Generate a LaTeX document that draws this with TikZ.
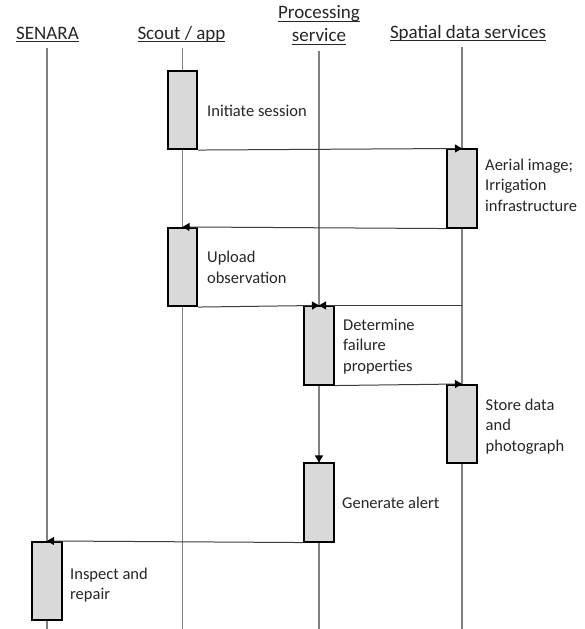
\documentclass[tikz,border=0pt]{standalone}
\usepackage{fontspec}
\setmainfont{Carlito}
\usetikzlibrary{arrows.meta}

\definecolor{lifegray}{HTML}{808080}
\definecolor{boxfill}{HTML}{D9D9D9}
\definecolor{msggray}{HTML}{3C3C3C}
\definecolor{txtgray}{HTML}{262626}

% underline that sits just below the baseline, through descenders
\newcommand\hdrul[1]{\sbox0{#1}\rlap{\rule[-2.6pt]{\wd0}{0.9pt}}\usebox0}
% stacked left-aligned lines, baseline on the first line
\newcommand\stackl[1]{\begin{tabular}[t]{@{}l@{}}#1\end{tabular}}

\begin{document}
\begin{tikzpicture}[x=1pt,y=-1pt,
  hdr/.style={inner sep=0pt,text=txtgray,font=\fontsize{19}{23}\selectfont},
  note/.style={inner sep=0pt,text=txtgray,font=\fontsize{16.5}{20.5}\selectfont},
  lifeline/.style={draw=lifegray,line width=1.2pt,shorten <=6pt},
  act/.style={draw=black,fill=boxfill,line width=1.6pt,
    minimum width=29.5pt,minimum height=78.5pt,inner sep=0pt},
  msg/.style={draw=msggray,line width=1pt,
    -{Triangle[length=7pt,width=8pt,color=black]}}]

\fill[white] (0,0) rectangle (584,629);
\useasboundingbox (0,0) rectangle (584,629);

% participants
\node[hdr,anchor=base] (senara) at (47.5,39.3) {\hdrul{SENARA}};
\node[hdr,anchor=base] (scout) at (181.5,39) {\hdrul{Scout / app}};
\node[hdr,anchor=south,align=center] (proc) at (319,44.6)
  {\hdrul{Processing}\\\hdrul{service}};
\node[hdr,anchor=base] (spatial) at (468,38) {\hdrul{Spatial data services}};

% lower ends of the lifelines
\coordinate (senaraEnd) at (47,629);
\coordinate (scoutEnd) at (182.5,629);
\coordinate (procEnd) at (319,629);
\coordinate (spatialEnd) at (462,629);

% lifelines
\draw[lifeline] (senara.south -| senaraEnd) -- (senaraEnd);
\draw[lifeline] (scout.south -| scoutEnd) -- (scoutEnd);
\draw[lifeline] (proc.south -| procEnd) -- (procEnd);
\draw[lifeline] (spatial.south -| spatialEnd) -- (spatialEnd);

% activation bars
\node[act] (a1) at (182.5,110) {};
\node[act] (a2) at (462,188.5) {};
\node[act] (a3) at (182.5,267) {};
\node[act] (a4) at (319,345.5) {};
\node[act] (a5) at (462,424) {};
\node[act] (a6) at (319,502.5) {};
\node[act] (a7) at (47,581) {};

% messages
\draw[msg] (a1.south east) -- (a2.north);
\draw[msg] (a2.south west) -- (a3.north);
\draw[msg] (a3.south east) -- (a4.north);
\draw[msg] (a4.north -| spatialEnd) -- (a4.north);
\draw[msg] (a4.south east) -- (a5.north);
\draw[msg,draw=lifegray,line width=1.2pt] (a4.south) -- (a6.north);
\draw[msg] (a6.south west) -- (a7.north);

% activity labels
\node[note,anchor=base west] (t1) at (207,116) {\stackl{Initiate session}};
\node[note,anchor=base west] (t2) at (485,170) {\stackl{Aerial image;\\Irrigation\\infrastructure}};
\node[note,anchor=base west] (t3) at (207,262.7) {\stackl{Upload\\observation}};
\node[note,anchor=base west] (t4) at (343,330) {\stackl{Determine\\failure\\properties}};
\node[note,anchor=base west] (t5) at (485.5,410) {\stackl{Store data\\and\\photograph}};
\node[note,anchor=base west] (t6) at (342,508) {\stackl{Generate alert}};
\node[note,anchor=base west] (t7) at (70,579) {\stackl{Inspect and\\repair}};
\end{tikzpicture}
\end{document}
